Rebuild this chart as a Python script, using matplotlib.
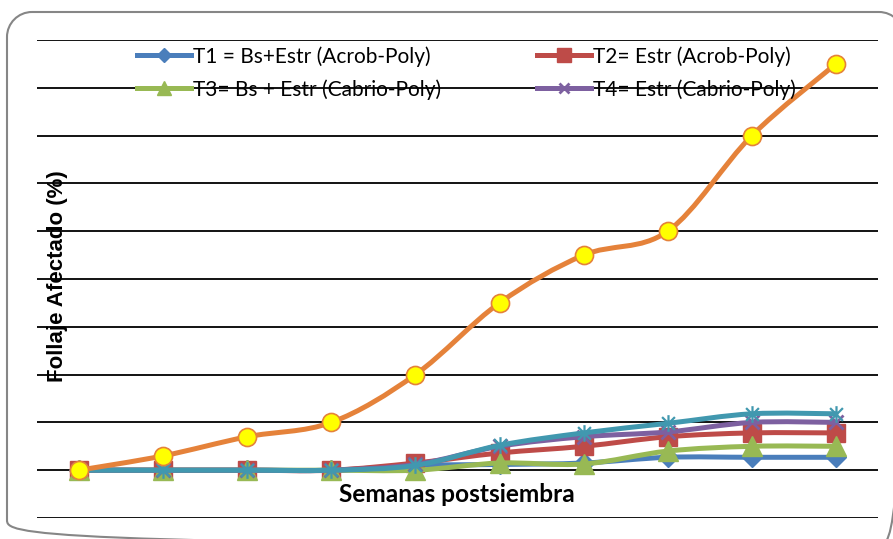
import numpy as np
import matplotlib
matplotlib.use("Agg")
import matplotlib.pyplot as plt
from matplotlib.path import Path
from matplotlib.patches import PathPatch
from matplotlib.lines import Line2D

# datos (Follaje afectado, %)
semanas = [1, 2, 3, 4, 5, 6, 7, 8, 9, 10]
t1 = [0, 0, 0, 0, 1.0, 1.2, 1.5, 2.7, 2.7, 2.7]
t2 = [0, 0, 0, 0, 1.5, 3.6, 5.0, 7.0, 7.8, 7.8]
t3 = [0, 0, 0, 0, 0, 1.5, 1.3, 4.0, 5.0, 5.0]
t4 = [0, 0, 0, 0, 1.2, 5.0, 7.0, 8.0, 10.0, 10.0]
t5 = [0, 0, 0, 0, 1.0, 5.2, 7.8, 9.8, 11.8, 11.8]
testigo = [0, 3, 7, 10, 20, 35, 45, 50, 70, 85]

nombres = ["T1 = Bs+Estr (Acrob-Poly)", "T2= Estr (Acrob-Poly)",
           "T3= Bs + Estr (Cabrio-Poly)", "T4= Estr (Cabrio-Poly)"]

# marcador tipo asterisco de Excel (x + linea vertical)
star = Path([(-1, -1), (1, 1), (-1, 1), (1, -1), (0, -1.3), (0, 1.3)],
            [Path.MOVETO, Path.LINETO] * 3)


def curva(x, y):
    # linea suavizada tipo Excel con bezier cubicas
    pts = np.column_stack([x, y]).astype(float)
    n = len(pts)
    verts = [pts[0]]
    codes = [Path.MOVETO]
    for i in range(n - 1):
        p0 = pts[max(i - 1, 0)]
        p1 = pts[i]
        p2 = pts[i + 1]
        p3 = pts[min(i + 2, n - 1)]
        verts += [p1 + (p2 - p0) / 6, p2 - (p3 - p1) / 6, p2]
        codes += [Path.CURVE4] * 3
    return Path(verts, codes)


def marco(x0, y0, x1, y1, r):
    # rectangulo redondeado (y hacia abajo, en pixeles)
    k = 0.552 * r
    v = [(x0 + r, y0), (x1 - r, y0),
         (x1 - r + k, y0), (x1, y0 + r - k), (x1, y0 + r),
         (x1, y1 - r),
         (x1, y1 - r + k), (x1 - r + k, y1), (x1 - r, y1),
         (x0 + r, y1),
         (x0 + r - k, y1), (x0, y1 - r + k), (x0, y1 - r),
         (x0, y0 + r),
         (x0, y0 + r - k), (x0 + r - k, y0), (x0 + r, y0)]
    c = [Path.MOVETO, Path.LINETO] + [Path.CURVE4] * 3 + [Path.LINETO] + \
        [Path.CURVE4] * 3 + [Path.LINETO] + [Path.CURVE4] * 3 + [Path.LINETO] + \
        [Path.CURVE4] * 3
    return Path(v, c)


fig = plt.figure(figsize=(8.93, 5.39), dpi=100)
W, H = 893, 539

# eje de fondo en pixeles para el borde redondeado
bg = fig.add_axes([0, 0, 1, 1])
bg.set_xlim(0, W)
bg.set_ylim(H, 0)
bg.axis("off")
bg.add_patch(PathPatch(marco(7, 12, 904, 545, 25), fc="none", ec="#868686", lw=1.5))

ax = fig.add_axes([37 / W, 1 - 518 / H, (878 - 37) / W, (518 - 40) / H])
ax.patch.set_alpha(0)
ax.set_xlim(0.5, 10.5)
ax.set_ylim(-10, 90)
ax.set_yticks(np.arange(-10, 91, 10))
ax.set_xticks([])
ax.tick_params(left=False, labelleft=False)
for s in ax.spines.values():
    s.set_visible(False)
ax.grid(axis="y", color="black", lw=1.3)
ax.set_axisbelow(True)

series = [
    (t1, "#4A7EBB", dict(marker="D", ms=10, mfc="#4A7EBB", mec="#4A7EBB")),
    (t2, "#BE4B48", dict(marker="s", ms=13, mfc="#BE4B48", mec="#BE4B48")),
    (t3, "#98B954", dict(marker="^", ms=14, mfc="#98B954", mec="#98B954")),
    (t4, "#7D60A0", dict(marker="x", ms=10, mew=2, mec="#7D60A0")),
    (t5, "#4198AF", dict(marker=star, ms=12, mew=1.6, mec="#4198AF", mfc="none")),
    (testigo, "#E5823A", dict(marker="o", ms=13, mfc="#FFFF00", mec="#E5823A", mew=1.2)),
]
for k, (vals, col, mk) in enumerate(series):
    ax.add_patch(PathPatch(curva(semanas, vals), fc="none", ec=col, lw=3.6,
                           capstyle="round", joinstyle="round", zorder=3 + 2 * k))
    ax.plot(semanas, vals, ls="none", zorder=4 + 2 * k, clip_on=False, **mk)

handles = []
for (vals, col, mk), nom in zip(series[:4], nombres):
    handles.append(Line2D([], [], color=col, lw=3.6, label=nom, **mk))
# orden por filas: T1 T2 / T3 T4
handles = [handles[0], handles[2], handles[1], handles[3]]
leg = ax.legend(handles=handles, ncol=2, loc="upper left", frameon=False,
                bbox_to_anchor=(137 / W, 1 - 46 / H), bbox_transform=fig.transFigure,
                prop={"family": "Lato", "size": 15}, handlelength=2.6,
                handletextpad=0.1, columnspacing=4.6, labelspacing=0.6,
                markerscale=0.75, borderpad=0, borderaxespad=0)
leg.set_zorder(20)

fig.text(58 / W, 1 - 276 / H, "Follaje Afectado (%)", rotation=90, ha="center",
         va="center", fontsize=16, fontweight="bold", family="Liberation Sans")
fig.text(457 / W, 1 - 502 / H, "Semanas postsiembra", ha="center", va="baseline",
         fontsize=17.6, fontweight="bold", family="Lato")

fig.savefig("out.png", dpi=100)
